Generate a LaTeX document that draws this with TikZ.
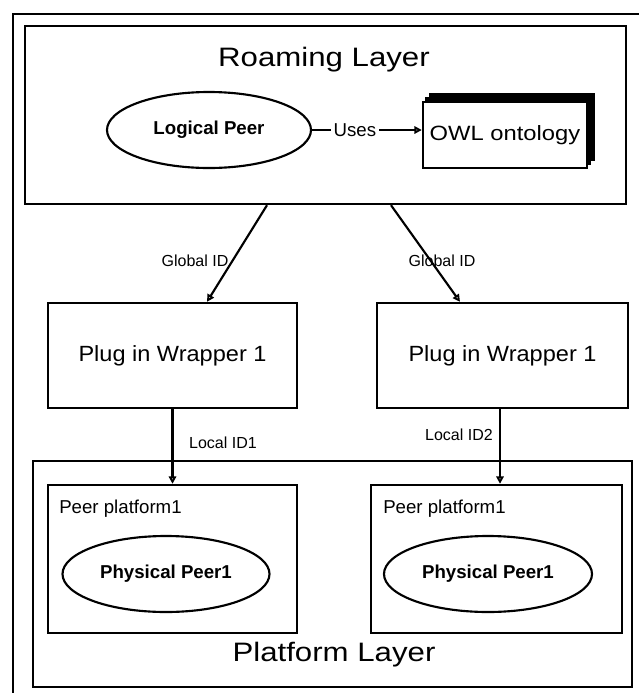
\documentclass[tikz,border=0pt]{standalone}
\usepackage{fontspec}
\setmainfont{Liberation Sans}
\usepackage{graphicx}
\usetikzlibrary{%
  arrows.meta,%
  shapes.geometric,% wg. ellipse
  positioning,%
  calc,%
  backgrounds%
}

\begin{document}
\begin{tikzpicture}[
  x=0.75pt, y=-0.75pt,
  >={Triangle[open,length=5.5pt,width=5.5pt]},
  box/.style={rectangle, draw=black, line width=1.8pt, inner sep=0pt},
  peer/.style={ellipse, draw=black, line width=1.6pt, minimum height=57pt, inner sep=0pt, font=\fontsize{14}{16}\selectfont\bfseries},
  link/.style={->, line width=1.6pt},
  idlabel/.style={font=\fontsize{12}{14}\selectfont, inner sep=0pt},
  title/.style={font=\fontsize{20}{24}\selectfont, inner sep=0pt, anchor=base}
]
\useasboundingbox (0,0) rectangle (639,693);

% page frame
\draw[line width=1.8pt] (13,693) -- (13,14) -- (639,14);

% roaming layer
\node[box, minimum width=450.75pt, minimum height=133.5pt] (roam) at (325.5,115) {};
\node[title] (roamtitle) at (324,66) {\scalebox{1.17}[1]{Roaming Layer}};
\node[peer, minimum width=153pt] (lp) at (209,130) {Logical Peer};
\node[box, fill=white, minimum width=123pt, minimum height=49.5pt, font=\fontsize{15.5}{17}\selectfont] (owl) at (505,135) {\scalebox{1.15}[1]{OWL ontology}};
\begin{scope}[on background layer]
  \fill ([shift={(3,-4)}]owl.south west) rectangle ([shift={(3,-4)}]owl.north east);
  \fill ([shift={(7,-8)}]owl.south west) rectangle ([shift={(7,-8)}]owl.north east);
\end{scope}
\draw[link] (lp.east) -- node[pos=0.39, fill=white, inner sep=2pt, font=\fontsize{14}{16}\selectfont] (uses) {Uses} (lp.east -| owl.west);

% plug-in wrappers
\node[box, minimum width=186.75pt, minimum height=78.75pt, font=\fontsize{16.5}{19}\selectfont] (plug1) at (172.5,355.5) {\scalebox{1.07}[1]{Plug in Wrapper 1}};
\node[box, minimum width=188.25pt, minimum height=78.75pt, font=\fontsize{16.5}{19}\selectfont] (plug2) at (502.5,355.5) {\scalebox{1.07}[1]{Plug in Wrapper 1}};

\draw[link] ($(roam.south)+(-58.5,0)$) -- ($(plug1.north)+(34.5,0)$);
\draw[link] ($(roam.south)+(65.5,0)$) -- ($(plug2.north)+(-42.5,0)$);
\node[idlabel] (gid1) at (195,261) {Global ID};
\node[idlabel] (gid2) at (442,261) {Global ID};

% platform layer
\node[box, minimum width=449.25pt, minimum height=169.5pt] (plat) at (332.5,574) {};
\node[title] (plattitle) at (334,661) {\scalebox{1.17}[1]{Platform Layer}};

\node[box, minimum width=186.75pt, minimum height=111pt] (peer1) at (172.5,559) {};
\node[box, minimum width=188.25pt, minimum height=111pt] (peer2) at (496.5,559) {};
\node[anchor=base west, inner sep=0pt, font=\fontsize{14}{16}\selectfont] (pf1) at (59,513) {Peer platform1};
\node[anchor=base west, inner sep=0pt, font=\fontsize{14}{16}\selectfont] (pf2) at (383,513) {Peer platform1};
\node[peer, minimum width=155.25pt] (pp1) at (166,574) {Physical Peer1};
\node[peer, minimum width=156pt] (pp2) at (488,574) {Physical Peer1};

\draw[link] (plug1.south) -- (plug1.south |- peer1.north);
\draw[link] ($(plug2.south)+(-2.5,0)$) -- ($(peer2.north)+(3.5,0)$);
\node[idlabel] (lid1) at (223,443) {Local ID1};
\node[idlabel] (lid2) at (459,435) {Local ID2};

\end{tikzpicture}
\end{document}
